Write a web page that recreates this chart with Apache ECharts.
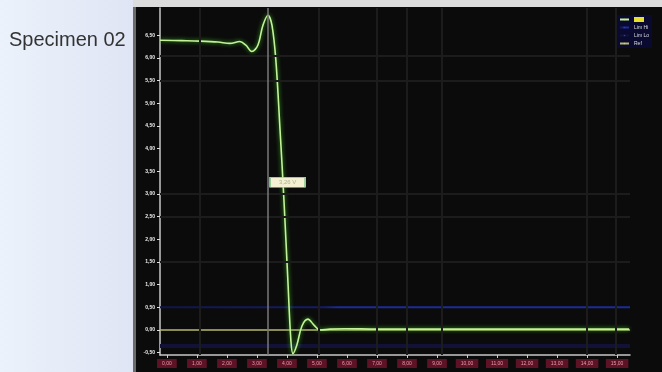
<!DOCTYPE html>
<html>
<head>
<meta charset="utf-8">
<script src="https://cdn.jsdelivr.net/npm/echarts@6/dist/echarts.min.js"></script>
<style>
  html, body { margin: 0; padding: 0; background: #e6ecf6; }
  #chart { width: 662px; height: 372px; }
</style>
</head>
<body>
<div id="chart"></div>
<script>
// Step response of the specimen: time (ms) and measured signal (V)
const timeMs = [-0.23, 0.5, 1.1, 1.7, 2.1, 2.43, 2.63, 2.83, 3.03, 3.2, 3.37, 3.5, 3.63, 3.77, 3.9, 4.03, 4.13, 4.2, 4.33, 4.5, 4.7, 4.9, 5.1, 5.43, 5.93, 7.0, 10.0, 15.4];
const signal = [6.39, 6.38, 6.37, 6.35, 6.32, 6.36, 6.28, 6.14, 6.28, 6.72, 6.94, 6.72, 5.95, 4.41, 2.86, 1.10, -0.22, -0.52, -0.33, 0.09, 0.24, 0.11, 0.0, 0.02, 0.03, 0.02, 0.02, 0.02];

// Reference levels
const refLevel = 0.0;
const upperBand = 0.5;
const lowerBand = -0.35;

// Cursor and its readout
const cursorTime = 3.37;
const readoutPoint = [4.02, 3.26];
const readoutText = '3,26 V';

// Axis ticks and labels
const xTicks = [0, 1, 2, 3, 4, 5, 6, 7, 8, 9, 10, 11, 12, 13, 14, 15];
const xTickLabels = ['0,00', '1,00', '2,00', '3,00', '4,00', '5,00', '6,00', '7,00', '8,00', '9,00', '10,00', '11,00', '12,00', '13,00', '14,00', '15,00'];
const yTicks = [-0.5, 0, 0.5, 1, 1.5, 2, 2.5, 3, 3.5, 4, 4.5, 5, 5.5, 6, 6.5];
const yTickLabels = ['-0,50', '0,00', '0,50', '1,00', '1,50', '2,00', '2,50', '3,00', '3,50', '4,00', '4,50', '5,00', '5,50', '6,00', '6,50'];

// Faint screen grid
const gridTimes = [1.1, 5.05, 7.0, 8.0, 9.15, 14.0, 14.95];
const gridLevels = [6.05, 5.5, 3.0, 2.5, 1.5];

const X_MIN = -0.23, X_MAX = 15.43, Y_MIN = -0.55, Y_MAX = 7.1;

const chart = echarts.init(document.getElementById('chart'), null, { renderer: 'canvas' });

const gridMarks = gridTimes.map(v => ({ xAxis: v }))
  .concat(gridLevels.map(v => ({ yAxis: v })));

const option = {
  backgroundColor: '#e6ecf6',
  animation: false,
  graphic: [
    { type: 'rect', left: 0, top: 0, shape: { width: 133, height: 372 },
      style: { fill: new echarts.graphic.LinearGradient(0, 0, 1, 0, [
        { offset: 0, color: '#ecf2fb' }, { offset: 1, color: '#dfe5f4' }]) }, z: -10 },
    { type: 'rect', left: 133, top: 0, shape: { width: 529, height: 7 },
      style: { fill: '#dcdcdc' }, z: -10 },
    { type: 'rect', left: 133, top: 7, shape: { width: 529, height: 365 },
      style: { fill: '#0b0b0b' }, z: -10 },
    { type: 'rect', left: 133, top: 7, shape: { width: 3, height: 365 },
      style: { fill: '#6b6b6b' }, z: -9 },
    { type: 'text', left: 9, top: 30,
      style: { text: 'Specimen 02', fill: '#333', font: '20px "Liberation Sans", Arial, sans-serif' } }
  ],
  legend: {
    right: 10, top: 15, orient: 'vertical', itemGap: 3,
    itemWidth: 9, itemHeight: 2,
    textStyle: { color: '#ddd', fontSize: 5 },
    backgroundColor: '#0a0a30',
    padding: [2, 3],
    data: [
      { name: 'CH1', textStyle: { backgroundColor: '#e8e030', color: '#e8e030' } },
      'Lim Hi', 'Lim Lo', 'Ref'
    ]
  },
  grid: { left: 160, right: 32, top: 8, bottom: 17 },
  xAxis: {
    type: 'value', min: X_MIN, max: X_MAX,
    axisLine: { show: true, onZero: false, lineStyle: { color: '#c8c8c8', width: 1.5 } },
    axisTick: { show: true, customValues: xTicks, length: 3, lineStyle: { color: '#ccc' } },
    axisLabel: {
      customValues: xTicks,
      formatter: v => xTickLabels[xTicks.indexOf(v)],
      color: '#e89aa8', fontSize: 5, margin: 4,
      backgroundColor: '#5e1226', padding: [2, 5]
    },
    splitLine: { show: false }
  },
  yAxis: {
    type: 'value', min: Y_MIN, max: Y_MAX,
    axisLine: { show: true, onZero: false, lineStyle: { color: '#c8c8c8', width: 1.5 } },
    axisTick: { show: true, customValues: yTicks, length: 3, lineStyle: { color: '#ddd' } },
    axisLabel: {
      customValues: yTicks,
      formatter: v => yTickLabels[yTicks.indexOf(v)],
      color: '#f0f0f0', fontSize: 5, fontWeight: 'bold', margin: 5
    },
    splitLine: { show: false }
  },
  series: [
    {
      name: 'grid', type: 'line', data: [], silent: true,
      markLine: {
        silent: true, symbol: 'none', label: { show: false },
        lineStyle: { color: '#1c1c1c', width: 2, type: 'solid' },
        data: gridMarks
      }
    },
    {
      name: 'Lim Hi', type: 'line', symbol: 'none', silent: true,
      lineStyle: {
        width: 2,
        color: new echarts.graphic.LinearGradient(0, 0, 1, 0, [
          { offset: 0, color: '#10164a' }, { offset: 0.35, color: '#141c66' },
          { offset: 0.38, color: '#1c2c96' }, { offset: 1, color: '#1c2c96' }])
      },
      itemStyle: { color: '#2a3ac0' },
      data: [[X_MIN, upperBand], [X_MAX, upperBand]],
      markLine: {
        silent: true, symbol: 'none', label: { show: false },
        lineStyle: { color: '#7a7a7a', width: 1.5, type: 'solid' },
        data: [{ xAxis: cursorTime }]
      }
    },
    {
      name: 'Lim Lo', type: 'line', symbol: 'none', silent: true,
      lineStyle: { color: '#121238', width: 4 }, itemStyle: { color: '#3a3ab0' },
      data: [[X_MIN, lowerBand], [X_MAX, lowerBand]]
    },
    {
      name: 'Ref', type: 'line', symbol: 'none', silent: true,
      lineStyle: { color: '#b8b870', width: 1.5 }, itemStyle: { color: '#d8d060' },
      data: [[X_MIN, refLevel], [X_MAX, refLevel]]
    },
    {
      name: 'CH1', type: 'line', symbol: 'none', smooth: 0.35,
      lineStyle: { color: '#c4f29a', width: 1.6, shadowColor: '#3fbf20', shadowBlur: 4 },
      itemStyle: { color: '#e8e030' },
      data: timeMs.map((t, i) => [t, signal[i]]),
      markPoint: {
        symbol: 'rect', symbolSize: [35, 10],
        itemStyle: { color: '#f3f1d2', borderColor: '#9c9', borderWidth: 1 },
        label: { show: true, formatter: readoutText, color: '#b0b090', fontSize: 6 },
        data: [{ coord: readoutPoint }]
      }
    }
  ]
};

chart.setOption(option);
</script>
</body>
</html>
